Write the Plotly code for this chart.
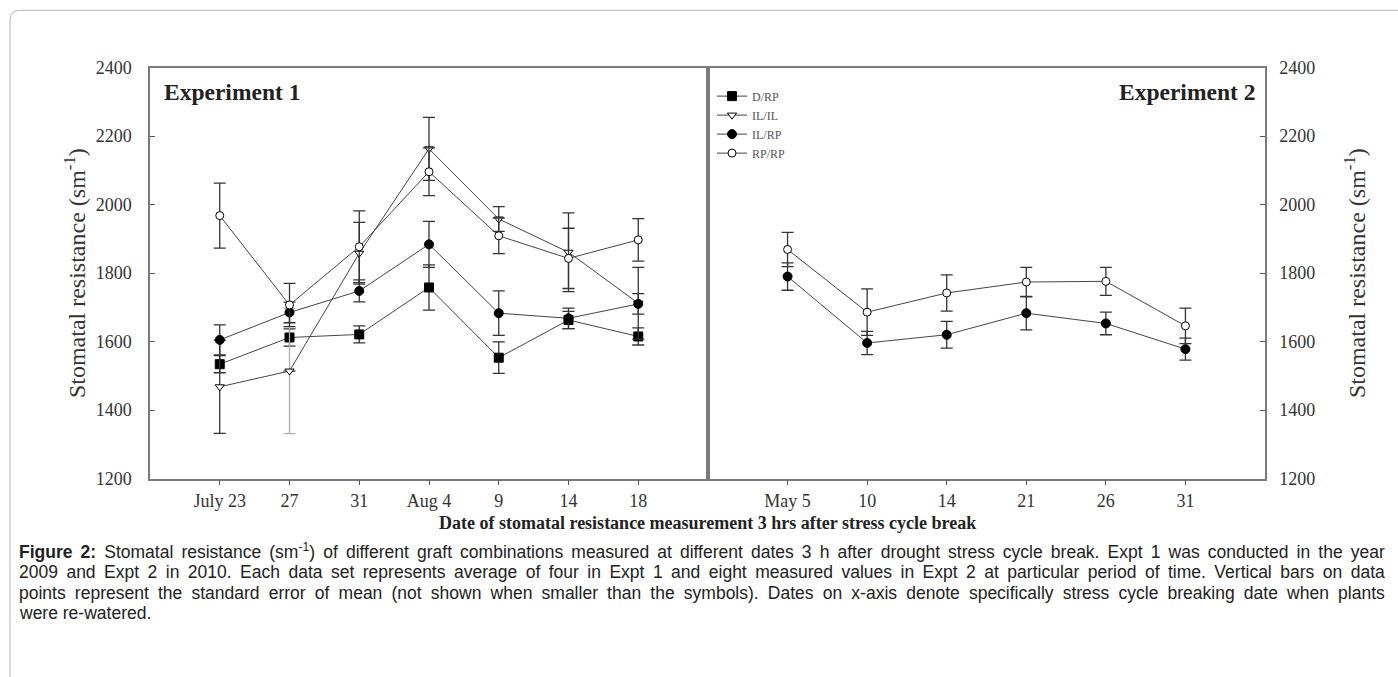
import plotly.graph_objects as go

W, H = 1398, 677

# ---------------- data ----------------
expt1_dates = ["July 23", "27", "31", "Aug 4", "9", "14", "18"]
expt2_dates = ["May 5", "10", "14", "21", "26", "31"]

e1_DRP = [1534, 1612, 1621, 1758, 1553, 1663, 1615]
e1_DRP_err = [25, 25, 25, 66, 46, 25, 25]
e1_ILIL = [1468, 1514, 1858, 2163, 1958, 1861, 1712]
e1_ILIL_err = [136, 183, 90, 92, 36, 115, 105]
e1_ILRP = [1605, 1685, 1748, 1884, 1683, 1668, 1710]
e1_ILRP_err = [44, 30, 32, 67, 65, 30, 30]
e1_RPRP = [1968, 1707, 1877, 2096, 1909, 1843, 1897]
e1_RPRP_err = [95, 63, 105, 70, 52, 88, 62]

e2_ILRP = [1790, 1596, 1620, 1683, 1653, 1578]
e2_ILRP_err = [40, 34, 39, 49, 33, 32]
e2_RPRP = [1869, 1686, 1742, 1774, 1776, 1646]
e2_RPRP_err = [50, 68, 53, 43, 41, 52]

y_ticks = [1200, 1400, 1600, 1800, 2000, 2200, 2400]

# ---------------- helpers ----------------
def px(x):
    return x / W

def py(y):
    # target pixel row -> paper fraction (compensates the page's vertical placement)
    return 1 - ((y - 8.2) / 0.973) / H

SERIF = "Liberation Serif, Times New Roman, serif"
SANS = "Liberation Sans, Arial, sans-serif"
LINE_C = "#444444"
ERR_C = "#333333"

styles = {
    "D/RP": dict(symbol="square", size=9, color="black", line=dict(color="black", width=1)),
    "IL/IL": dict(symbol="triangle-down", size=8, color="white", line=dict(color="black", width=1)),
    "IL/RP": dict(symbol="circle", size=9, color="black", line=dict(color="black", width=1)),
    "RP/RP": dict(symbol="circle", size=8, color="white", line=dict(color="black", width=1)),
}

fig = go.Figure()

def add_series(name, xs, ys, errs, xa, ya, showlegend, err_color=ERR_C):
    fig.add_trace(go.Scatter(
        x=list(range(len(xs))), y=ys, name=name, mode="lines+markers",
        line=dict(color=LINE_C, width=1),
        marker=styles[name],
        error_y=dict(type="data", array=errs, visible=True, color=err_color,
                     thickness=1.3, width=6),
        xaxis=xa, yaxis=ya, showlegend=showlegend, legendgroup=name,
    ))

# Expt 1 (IL/IL at 27 has a lighter error bar)
ilil_err_main = [e if i != 1 else 0 for i, e in enumerate(e1_ILIL_err)]
add_series("D/RP", expt1_dates, e1_DRP, e1_DRP_err, "x", "y", True)
fig.add_trace(go.Scatter(
    x=[1], y=[e1_ILIL[1]], mode="markers", marker=dict(size=1, color="rgba(0,0,0,0)"),
    error_y=dict(type="data", array=[e1_ILIL_err[1]], color="#b0b0b0", thickness=1.3, width=6),
    xaxis="x", yaxis="y", showlegend=False, hoverinfo="skip"))
add_series("IL/IL", expt1_dates, e1_ILIL, ilil_err_main, "x", "y", True)
add_series("IL/RP", expt1_dates, e1_ILRP, e1_ILRP_err, "x", "y", True)
add_series("RP/RP", expt1_dates, e1_RPRP, e1_RPRP_err, "x", "y", True)

# Expt 2
add_series("IL/RP", expt2_dates, e2_ILRP, e2_ILRP_err, "x2", "y2", False)
add_series("RP/RP", expt2_dates, e2_RPRP, e2_RPRP_err, "x2", "y2", False)

frame = dict(showline=True, linecolor="#7a7a7a", linewidth=1.5, mirror=True,
             showgrid=False, zeroline=False)
tickfont = dict(family=SERIF, size=18, color="#333333")

ydom = [py(478), py(66)]

fig.update_layout(
    width=W, height=H,
    margin=dict(l=0, r=0, t=0, b=0),
    paper_bgcolor="white", plot_bgcolor="white",
    showlegend=True,
    legend=dict(x=px(712), y=py(80), xanchor="left", yanchor="top",
                font=dict(family=SERIF, size=12, color="#555555"),
                bgcolor="rgba(0,0,0,0)", tracegroupgap=0, itemwidth=30),
    xaxis=dict(domain=[px(150), px(708)], range=[-1, 7],
               tickvals=list(range(len(expt1_dates))), ticktext=expt1_dates,
               ticks="outside", ticklen=5, tickcolor="#555", tickfont=tickfont,
               anchor="y", **frame),
    yaxis=dict(domain=ydom, range=[1200, 2400], tickvals=y_ticks,
               ticks="inside", ticklen=5, tickcolor="#555", tickfont=tickfont,
               ticklabelstandoff=13, anchor="x", **frame),
    xaxis2=dict(domain=[px(708), px(1265)], range=[-1, 6],
                tickvals=list(range(len(expt2_dates))), ticktext=expt2_dates,
                ticks="outside", ticklen=5, tickcolor="#555", tickfont=tickfont,
                anchor="y2", **frame),
    yaxis2=dict(domain=ydom, range=[1200, 2400], tickvals=y_ticks, side="right",
                ticks="inside", ticklen=5, tickcolor="#555", tickfont=tickfont,
                ticklabelstandoff=9, anchor="x2", **frame),
)

P = dict(xref="paper", yref="paper", showarrow=False)
ann = []
ann.append(dict(x=px(162), y=py(90), text="<b>Experiment 1</b>",
                xanchor="left", yanchor="middle", font=dict(family=SERIF, size=23.5, color="#222"), **P))
ann.append(dict(x=px(1257), y=py(90), text="<b>Experiment 2</b>",
                xanchor="right", yanchor="middle", font=dict(family=SERIF, size=23.5, color="#222"), **P))
ann.append(dict(x=px(75), y=py(272), text="Stomatal resistance (sm<sup>-1</sup>)", textangle=-90,
                xanchor="center", yanchor="middle",
                font=dict(family=SERIF, size=24, color="#333"), **P))
ann.append(dict(x=px(1355), y=py(272), text="Stomatal resistance (sm<sup>-1</sup>)", textangle=-90,
                xanchor="center", yanchor="middle",
                font=dict(family=SERIF, size=24, color="#333"), **P))
ann.append(dict(x=px(707), y=py(523), text="<b>Date of stomatal resistance measurement 3 hrs after stress cycle break</b>",
                xanchor="center", yanchor="middle",
                font=dict(family=SERIF, size=18, color="#222"), **P))

caption_lines = [
    "<b>Figure 2:</b> Stomatal resistance (sm<sup>-1</sup>) of different graft combinations measured at different dates 3 h after drought stress cycle break. Expt 1 was conducted in the year",
    "2009 and Expt 2 in 2010. Each data set represents average of four in Expt 1 and eight measured values in Expt 2 at particular period of time. Vertical bars on data",
    "points represent the standard error of mean (not shown when smaller than the symbols). Dates on x-axis denote specifically stress cycle breaking date when plants",
    "were re-watered.",
]
for i, line in enumerate(caption_lines):
    ann.append(dict(x=px(17), y=py(551 + i * 20.7), text=line,
                    xanchor="left", yanchor="middle", align="left",
                    font=dict(family=SANS, size=17.5, color="#222"), **P))
fig.update_layout(annotations=ann)

# outer rounded frame (top and left edges)
fig.add_shape(type="path", xref="paper", yref="paper",
              path=f"M {px(10)},{py(677)} L {px(10)},{py(18)} Q {px(10)},{py(8.5)} {px(20)},{py(8.5)} L {px(1398)},{py(8.5)}",
              line=dict(color="#b5b5b5", width=1))

# page tweaks + justify the first three caption lines (as in the original)
js = """
document.body.style.margin='0';document.body.style.overflow='hidden';
var gd=document.querySelector('.plotly-graph-div');
gd.style.position='absolute';gd.style.top='0px';gd.style.left='0px';
var ts=gd.querySelectorAll('.infolayer .annotation text.annotation-text');
var gr=gd.getBoundingClientRect();
[5,6,7].forEach(function(i){
  var t=ts[i]; if(!t) return;
  var r=t.getBoundingClientRect();
  var n=(t.textContent.match(/ /g)||[]).length;
  var need=(gr.left+1385)-r.right;
  if(n>0 && need>0){ t.style.wordSpacing=(need/n)+'px'; }
});
"""
fig.write_html("out.html", post_script=js, config={"displayModeBar": False})
